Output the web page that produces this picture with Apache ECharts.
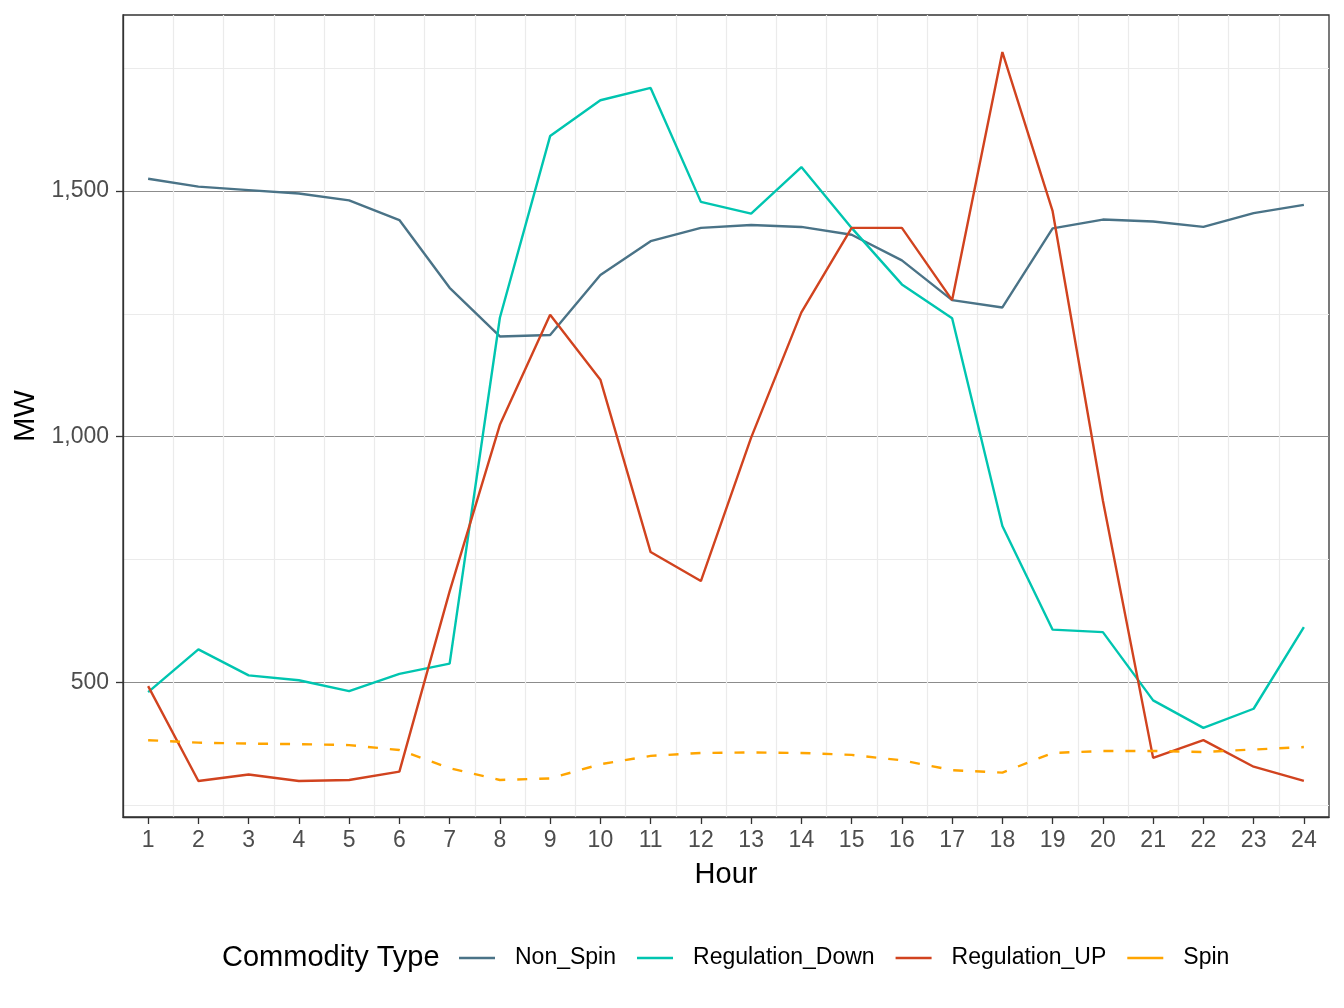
<!DOCTYPE html>
<html>
<head>
<meta charset="utf-8">
<script src="https://cdn.jsdelivr.net/npm/echarts@6/dist/echarts.min.js"></script>
<style>
  html, body { margin: 0; padding: 0; background: #fff; }
  #chart { width: 1344px; height: 1008px; }
</style>
</head>
<body>
<div id="chart"></div>
<script>
var chart = echarts.init(document.getElementById('chart'), null, { renderer: 'canvas' });

// hourly commodity MW
var hours = ['1','2','3','4','5','6','7','8','9','10','11','12','13','14','15','16','17','18','19','20','21','22','23','24'];
var nonSpin = [1525,1509,1502,1495,1481,1441,1303,1204,1207,1329,1398,1425,1431,1427,1411,1359,1278,1263,1424,1442,1438,1427,1455,1472];
var regDown = [480,567,514,504,482,517,538,1242,1612,1685,1710,1478,1454,1549,1425,1310,1241,818,607,602,463,407,446,612];
var regUp = [492,299,312,299,301,318,685,1024,1248,1116,765,706,998,1253,1425,1425,1278,1783,1459,870,346,382,328,299];
var spin = [382,377,375,374,372,362,325,301,304,333,350,356,357,356,352,341,321,316,356,360,360,358,363,368];

var gridValues = [250, 500, 750, 1000, 1250, 1500, 1750];
var labelValues = [500, 1000, 1500];

var FONT = '"Liberation Sans", Arial, sans-serif';
var yMin = 225.6, yMax = 1858.5;

function lineSeries(name, data, color, dashed) {
    return {
        name: name,
        type: 'line',
        data: data,
        symbol: 'none',
        yAxisIndex: 0,
        lineStyle: { width: 2.4, color: color, type: dashed ? [10, 12] : 'solid', cap: 'butt' },
        itemStyle: { color: color },
        emphasis: { disabled: true }
    };
}

var option = {
    animation: false,
    backgroundColor: '#ffffff',
    textStyle: { fontFamily: FONT },
    title: {
        text: 'Commodity Type',
        left: 222,
        top: 944,
        padding: 0,
        textStyle: { fontSize: 29, fontWeight: 'normal', color: '#000', lineHeight: 28, fontFamily: FONT }
    },
    legend: {
        left: 459,
        top: 944,
        padding: 0,
        itemGap: 21,
        itemWidth: 36,
        itemHeight: 2.5,
        icon: 'rect',
        data: ['Non_Spin', 'Regulation_Down', 'Regulation_UP', 'Spin'],
        textStyle: { fontSize: 23, color: '#000', lineHeight: 28, padding: [0, 0, 0, 15], fontFamily: FONT }
    },
    grid: {
        left: 123, right: 15, top: 15, bottom: 191,
        show: true,
        borderColor: '#333333',
        borderWidth: 1.3,
        backgroundColor: '#ffffff',
        containLabel: false,
        outerBoundsMode: 'none'
    },
    xAxis: {
        type: 'category',
        data: hours,
        boundaryGap: true,
        name: 'Hour',
        nameLocation: 'middle',
        nameGap: 43,
        nameTextStyle: { fontSize: 29, color: '#000', fontFamily: FONT },
        axisLine: { show: true, lineStyle: { color: '#333333', width: 1.3 } },
        axisTick: { show: true, alignWithLabel: true, interval: 0, length: 7, lineStyle: { color: '#333333', width: 1.3 } },
        axisLabel: { interval: 0, fontSize: 23, color: '#4d4d4d', margin: 12, fontFamily: FONT },
        splitLine: { show: true, interval: 0, showMinLine: false, showMaxLine: false, lineStyle: { color: '#ebebeb', width: 1.2 } }
    },
    yAxis: [
        {
            type: 'value',
            min: yMin,
            max: yMax,
            position: 'left',
            axisLine: { show: true, lineStyle: { color: '#333333', width: 1.3 } },
            axisTick: { show: false, customValues: gridValues },
            axisLabel: { show: false },
            splitLine: { show: true, lineStyle: { color: ['#ebebeb', '#8c8c8c'], width: 1.2 } }
        },
        {
            type: 'value',
            min: yMin,
            max: yMax,
            position: 'left',
            name: 'MW',
            nameLocation: 'middle',
            nameGap: 78,
            nameTextStyle: { fontSize: 29, color: '#000', fontFamily: FONT },
            axisLine: { show: false },
            axisTick: { show: true, length: 7, customValues: labelValues, lineStyle: { color: '#333333', width: 1.3 } },
            axisLabel: {
                customValues: labelValues,
                fontSize: 23, color: '#4d4d4d', margin: 14, fontFamily: FONT,
                formatter: function (v) { return Number(v).toLocaleString('en-US'); }
            },
            splitLine: { show: false }
        }
    ],
    series: [
        lineSeries('Non_Spin', nonSpin, '#4a7387'),
        lineSeries('Regulation_Down', regDown, '#00c5b0'),
        lineSeries('Regulation_UP', regUp, '#d1431f'),
        lineSeries('Spin', spin, '#ffa500', true)
    ]
};

chart.setOption(option);
</script>
</body>
</html>
